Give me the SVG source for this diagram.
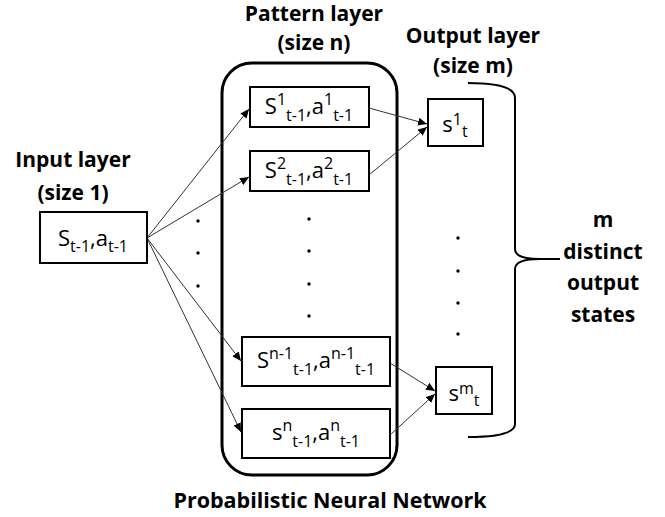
<svg xmlns="http://www.w3.org/2000/svg" width="665" height="517" viewBox="0 0 665 517">
  <defs>
    <marker id="arrow" markerUnits="userSpaceOnUse" markerWidth="10" markerHeight="8" refX="9" refY="4" orient="auto">
      <path d="M0,0 L9,4 L0,8 Z" fill="#000"/>
    </marker>
    <style>
      .head { font-family: "Open Sans", "Liberation Sans", sans-serif; font-weight: bold; font-size: 21px; fill: #000; text-anchor: middle; }
      .lbl { font-family: "Open Sans", "Liberation Sans", sans-serif; font-size: 22px; fill: #000; text-anchor: middle; }
      .sm { font-size: 16px; }
      .box { fill: #fff; stroke: #000; stroke-width: 2; }
      .frame { fill: none; stroke: #000; stroke-width: 3; }
      .edge { fill: none; stroke: #333; stroke-width: 1; marker-end: url(#arrow); }
      .dot { fill: #000; }
    </style>
  </defs>

  <rect width="665" height="517" fill="#fff"/>

  <!-- layer headings -->
  <text class="head" x="73" y="167">Input layer</text>
  <text class="head" x="73" y="200">(size 1)</text>
  <text class="head" x="314" y="21">Pattern layer</text>
  <text class="head" x="314" y="50">(size n)</text>
  <text class="head" x="473" y="43">Output layer</text>
  <text class="head" x="473" y="73">(size m)</text>
  <text class="head" x="330" y="508" style="font-size:21.5px">Probabilistic Neural Network</text>

  <!-- pattern layer container -->
  <rect id="pattern-frame" class="frame" x="222" y="63" width="175" height="412" rx="30" ry="30"/>

  <!-- connectors -->
  <g id="connectors">
    <line class="edge" x1="147" y1="238" x2="249" y2="109"/>
    <line class="edge" x1="147" y1="238" x2="249" y2="177"/>
    <line class="edge" x1="147" y1="238" x2="241" y2="361"/>
    <line class="edge" x1="147" y1="238" x2="241" y2="432"/>
    <line class="edge" x1="369" y1="108" x2="427" y2="124"/>
    <line class="edge" x1="369" y1="175" x2="427" y2="127"/>
    <line class="edge" x1="390" y1="363" x2="435" y2="391"/>
    <line class="edge" x1="390" y1="435" x2="435" y2="394"/>
  </g>

  <!-- input node -->
  <g id="input">
    <rect class="box" x="40" y="212" width="107" height="51"/>
    <text class="lbl" x="93" y="246">S<tspan class="sm" dy="6">t-1</tspan><tspan dy="-6">,a</tspan><tspan class="sm" dy="6">t-1</tspan></text>
  </g>

  <!-- pattern nodes -->
  <g id="pattern-1">
    <rect class="box" x="250" y="87" width="119" height="40"/>
    <text class="lbl" x="309" y="114">S<tspan class="sm" dy="-9">1</tspan><tspan class="sm" dy="16">t-1</tspan><tspan dy="-7">,a</tspan><tspan class="sm" dy="-9">1</tspan><tspan class="sm" dy="16">t-1</tspan></text>
  </g>
  <g id="pattern-2">
    <rect class="box" x="250" y="151" width="119" height="40"/>
    <text class="lbl" x="309" y="178">S<tspan class="sm" dy="-9">2</tspan><tspan class="sm" dy="16">t-1</tspan><tspan dy="-7">,a</tspan><tspan class="sm" dy="-9">2</tspan><tspan class="sm" dy="16">t-1</tspan></text>
  </g>
  <g id="pattern-n-1">
    <rect class="box" x="242" y="337" width="148" height="49"/>
    <text class="lbl" x="316" y="368">S<tspan class="sm" dy="-9">n-1</tspan><tspan class="sm" dy="16">t-1</tspan><tspan dy="-7">,a</tspan><tspan class="sm" dy="-9">n-1</tspan><tspan class="sm" dy="16">t-1</tspan></text>
  </g>
  <g id="pattern-n">
    <rect class="box" x="242" y="409" width="148" height="49"/>
    <text class="lbl" x="316" y="440">s<tspan class="sm" dy="-9">n</tspan><tspan class="sm" dy="16">t-1</tspan><tspan dy="-7">,a</tspan><tspan class="sm" dy="-9">n</tspan><tspan class="sm" dy="16">t-1</tspan></text>
  </g>

  <!-- output nodes -->
  <g id="output-1">
    <rect class="box" x="428" y="99" width="55" height="47"/>
    <text class="lbl" x="455" y="132">s<tspan class="sm" dy="-7">1</tspan><tspan class="sm" dy="12">t</tspan></text>
  </g>
  <g id="output-m">
    <rect class="box" x="436" y="367" width="56" height="47"/>
    <text class="lbl" x="464" y="401">s<tspan class="sm" dy="-7">m</tspan><tspan class="sm" dy="12">t</tspan></text>
  </g>

  <!-- ellipsis dots -->
  <g id="dots">
    <circle class="dot" cx="198" cy="221" r="1.7"/>
    <circle class="dot" cx="198" cy="253" r="1.7"/>
    <circle class="dot" cx="198" cy="286" r="1.7"/>
    <circle class="dot" cx="309" cy="219" r="1.7"/>
    <circle class="dot" cx="309" cy="251" r="1.7"/>
    <circle class="dot" cx="309" cy="284" r="1.7"/>
    <circle class="dot" cx="309" cy="316" r="1.7"/>
    <circle class="dot" cx="458" cy="238" r="1.7"/>
    <circle class="dot" cx="458" cy="271" r="1.7"/>
    <circle class="dot" cx="458" cy="303" r="1.7"/>
    <circle class="dot" cx="458" cy="334" r="1.7"/>
  </g>

  <!-- brace spanning the output layer -->
  <g id="brace">
    <path d="M468,83 Q515,83 515,98 L515,249 Q515,259 540,259 L560,259 M540,259 Q515,259 515,269 L515,424 Q515,437 468,437" fill="none" stroke="#000" stroke-width="2"/>
    <text class="head" x="603" y="227">m</text>
    <text class="head" x="603" y="259">distinct</text>
    <text class="head" x="603" y="290">output</text>
    <text class="head" x="603" y="322">states</text>
  </g>
</svg>
